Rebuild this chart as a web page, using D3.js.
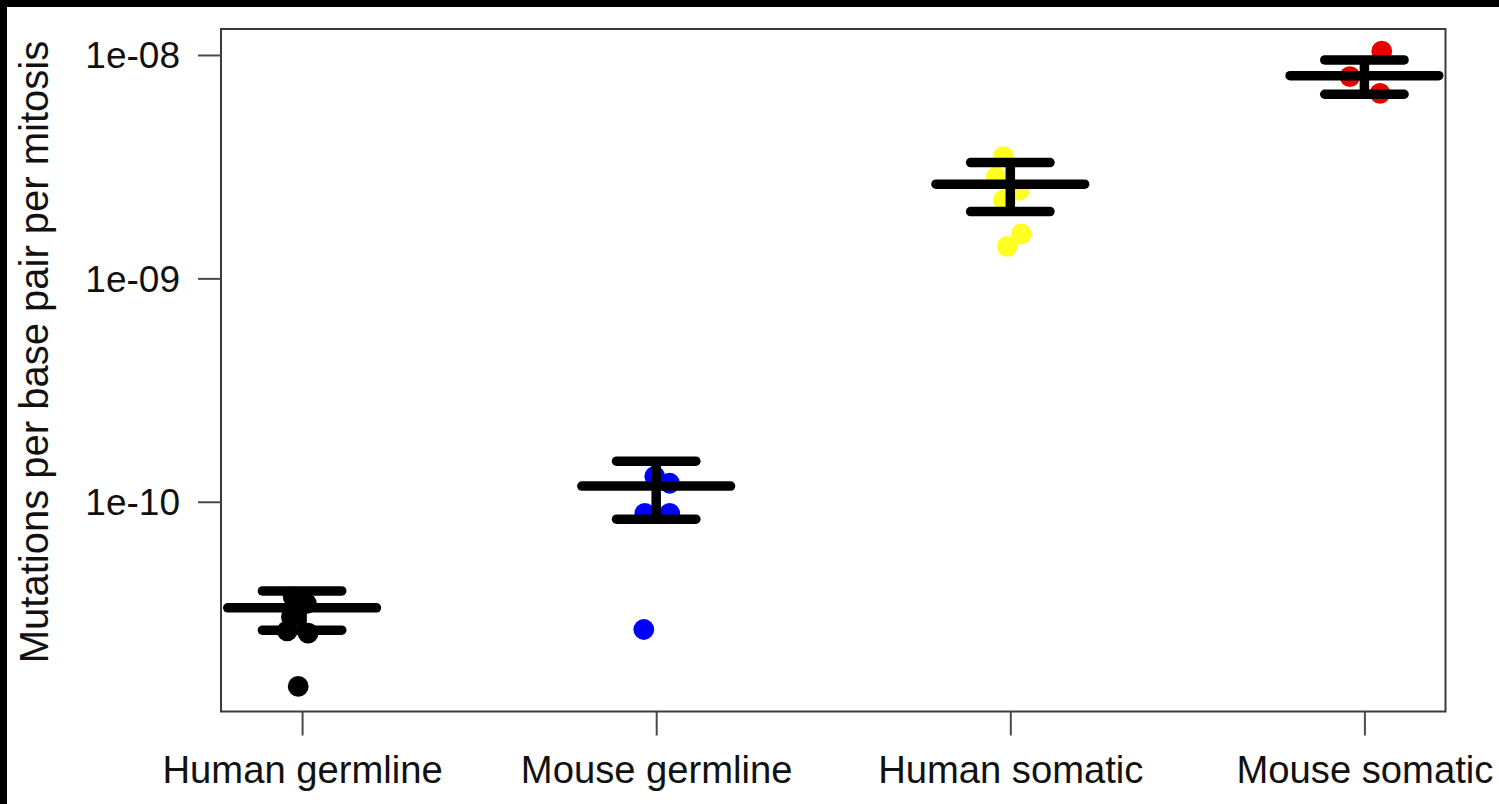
<!DOCTYPE html>
<html>
<head>
<meta charset="utf-8">
<script src="https://cdn.jsdelivr.net/npm/d3@7"></script>
<style>
  html, body { margin: 0; padding: 0; background: #fff; }
  svg { display: block; }
  text { font-family: "Liberation Sans", Arial, Helvetica, sans-serif; fill: #111; }
</style>
</head>
<body>
<svg id="chart" width="1499" height="804"></svg>
<script>
// Groups shown along the x axis
const categories = ["Human germline", "Mouse germline", "Human somatic", "Mouse somatic"];
const groupColors = ["#000000", "#0000ff", "#ffff22", "#e80000"];

// Individual estimates (mutations per bp per mitosis) and their horizontal jitter
const humanGermline = [1.49e-11, 2.64e-11, 2.58e-11, 3.75e-11, 3.5e-11, 3.05e-11];
const humanGermlineJitter = [-0.011, -0.042, 0.017, -0.025, 0.012, -0.03];
const mouseGermline = [1.3e-10, 1.21e-10, 8.87e-11, 8.87e-11, 2.68e-11];
const mouseGermlineJitter = [-0.004, 0.038, -0.032, 0.038, -0.035];
const humanSomatic = [3.51e-9, 2.85e-9, 2.48e-9, 2.24e-9, 1.58e-9, 1.39e-9];
const humanSomaticJitter = [-0.02, -0.04, 0.025, -0.02, 0.031, -0.009];
const mouseSomatic = [1.04e-8, 8.0e-9, 6.73e-9];
const mouseSomaticJitter = [0.049, -0.041, 0.044];

// Group summaries: mean with lower / upper error bounds
const groupMeans = [3.35e-11, 1.175e-10, 2.64e-9, 8.08e-9];
const groupLower = [2.66e-11, 8.36e-11, 1.99e-9, 6.67e-9];
const groupUpper = [3.99e-11, 1.52e-10, 3.30e-9, 9.50e-9];

// Axis ticks
const yTickValues = [1e-8, 1e-9, 1e-10];
const yTickLabels = ["1e-08", "1e-09", "1e-10"];
const yTitle = "Mutations per base pair per mitosis";

const groups = [
  { values: humanGermline, jitter: humanGermlineJitter },
  { values: mouseGermline, jitter: mouseGermlineJitter },
  { values: humanSomatic, jitter: humanSomaticJitter },
  { values: mouseSomatic, jitter: mouseSomaticJitter }
];

const svg = d3.select("#chart");
const W = 1499, H = 804;
const box = { left: 221, right: 1445.5, top: 29, bottom: 711.5 };

// black frame strips along the top and left edges
svg.append("rect").attr("x", 0).attr("y", 0).attr("width", W).attr("height", 7).attr("fill", "#000");
svg.append("rect").attr("x", 0).attr("y", 0).attr("width", 7).attr("height", H).attr("fill", "#000");

const x = d3.scaleLinear().domain([0.771, 4.229]).range([box.left, box.right]);
const y = d3.scaleLog().domain([1.151e-11, 1.307e-8]).range([box.bottom, box.top]);

const tickFont = 37;
const catFont = 38.2;
const titleFont = 40;

// points
const pts = [];
groups.forEach((g, i) => {
  g.values.forEach((v, j) => pts.push({ cx: i + 1 + g.jitter[j], v, color: groupColors[i] }));
});
svg.append("g").selectAll("circle").data(pts).join("circle")
  .attr("cx", d => x(d.cx))
  .attr("cy", d => y(d.v))
  .attr("r", 10.4)
  .attr("fill", d => d.color);

// mean lines and error bars
const summary = categories.map((c, i) => ({ pos: i + 1, mean: groupMeans[i], lo: groupLower[i], hi: groupUpper[i] }));
const eb = svg.append("g").attr("stroke", "#000").attr("stroke-width", 9.5).attr("stroke-linecap", "round");
const meanHalf = 0.21, capHalf = 0.112;
summary.forEach(d => {
  eb.append("line").attr("x1", x(d.pos - meanHalf)).attr("x2", x(d.pos + meanHalf))
    .attr("y1", y(d.mean)).attr("y2", y(d.mean));
  eb.append("line").attr("x1", x(d.pos)).attr("x2", x(d.pos))
    .attr("y1", y(d.lo)).attr("y2", y(d.hi)).attr("stroke-linecap", "butt");
  eb.append("line").attr("x1", x(d.pos - capHalf)).attr("x2", x(d.pos + capHalf))
    .attr("y1", y(d.hi)).attr("y2", y(d.hi));
  eb.append("line").attr("x1", x(d.pos - capHalf)).attr("x2", x(d.pos + capHalf))
    .attr("y1", y(d.lo)).attr("y2", y(d.lo));
});

// plot frame
svg.append("rect")
  .attr("x", box.left).attr("y", box.top)
  .attr("width", box.right - box.left).attr("height", box.bottom - box.top)
  .attr("fill", "none").attr("stroke", "#3a3a3a").attr("stroke-width", 2);

// y axis
const yAxis = d3.axisLeft(y)
  .tickValues(yTickValues)
  .tickFormat((d, i) => yTickLabels[i])
  .tickSize(23).tickPadding(18);
const gy = svg.append("g").attr("transform", `translate(${box.left},0)`).call(yAxis);
gy.select(".domain").remove();
gy.selectAll(".tick line").attr("stroke", "#4a4a4a").attr("stroke-width", 2);
gy.selectAll(".tick text").attr("font-size", tickFont).attr("fill", "#111")
  .attr("font-family", "Liberation Sans, Arial, sans-serif").attr("dy", "0.35em");

// x axis
const xAxis = d3.axisBottom(x)
  .tickValues([1, 2, 3, 4])
  .tickFormat((d, i) => categories[i])
  .tickSize(24).tickPadding(20.5);
const gx = svg.append("g").attr("transform", `translate(0,${box.bottom})`).call(xAxis);
gx.select(".domain").remove();
gx.selectAll(".tick line").attr("stroke", "#4a4a4a").attr("stroke-width", 2);
gx.selectAll(".tick text").attr("font-size", catFont).attr("fill", "#111")
  .attr("font-family", "Liberation Sans, Arial, sans-serif");

// y axis title
svg.append("text")
  .attr("transform", `translate(48,352) rotate(-90)`)
  .attr("text-anchor", "middle")
  .attr("font-size", titleFont)
  .text(yTitle);
</script>
</body>
</html>
